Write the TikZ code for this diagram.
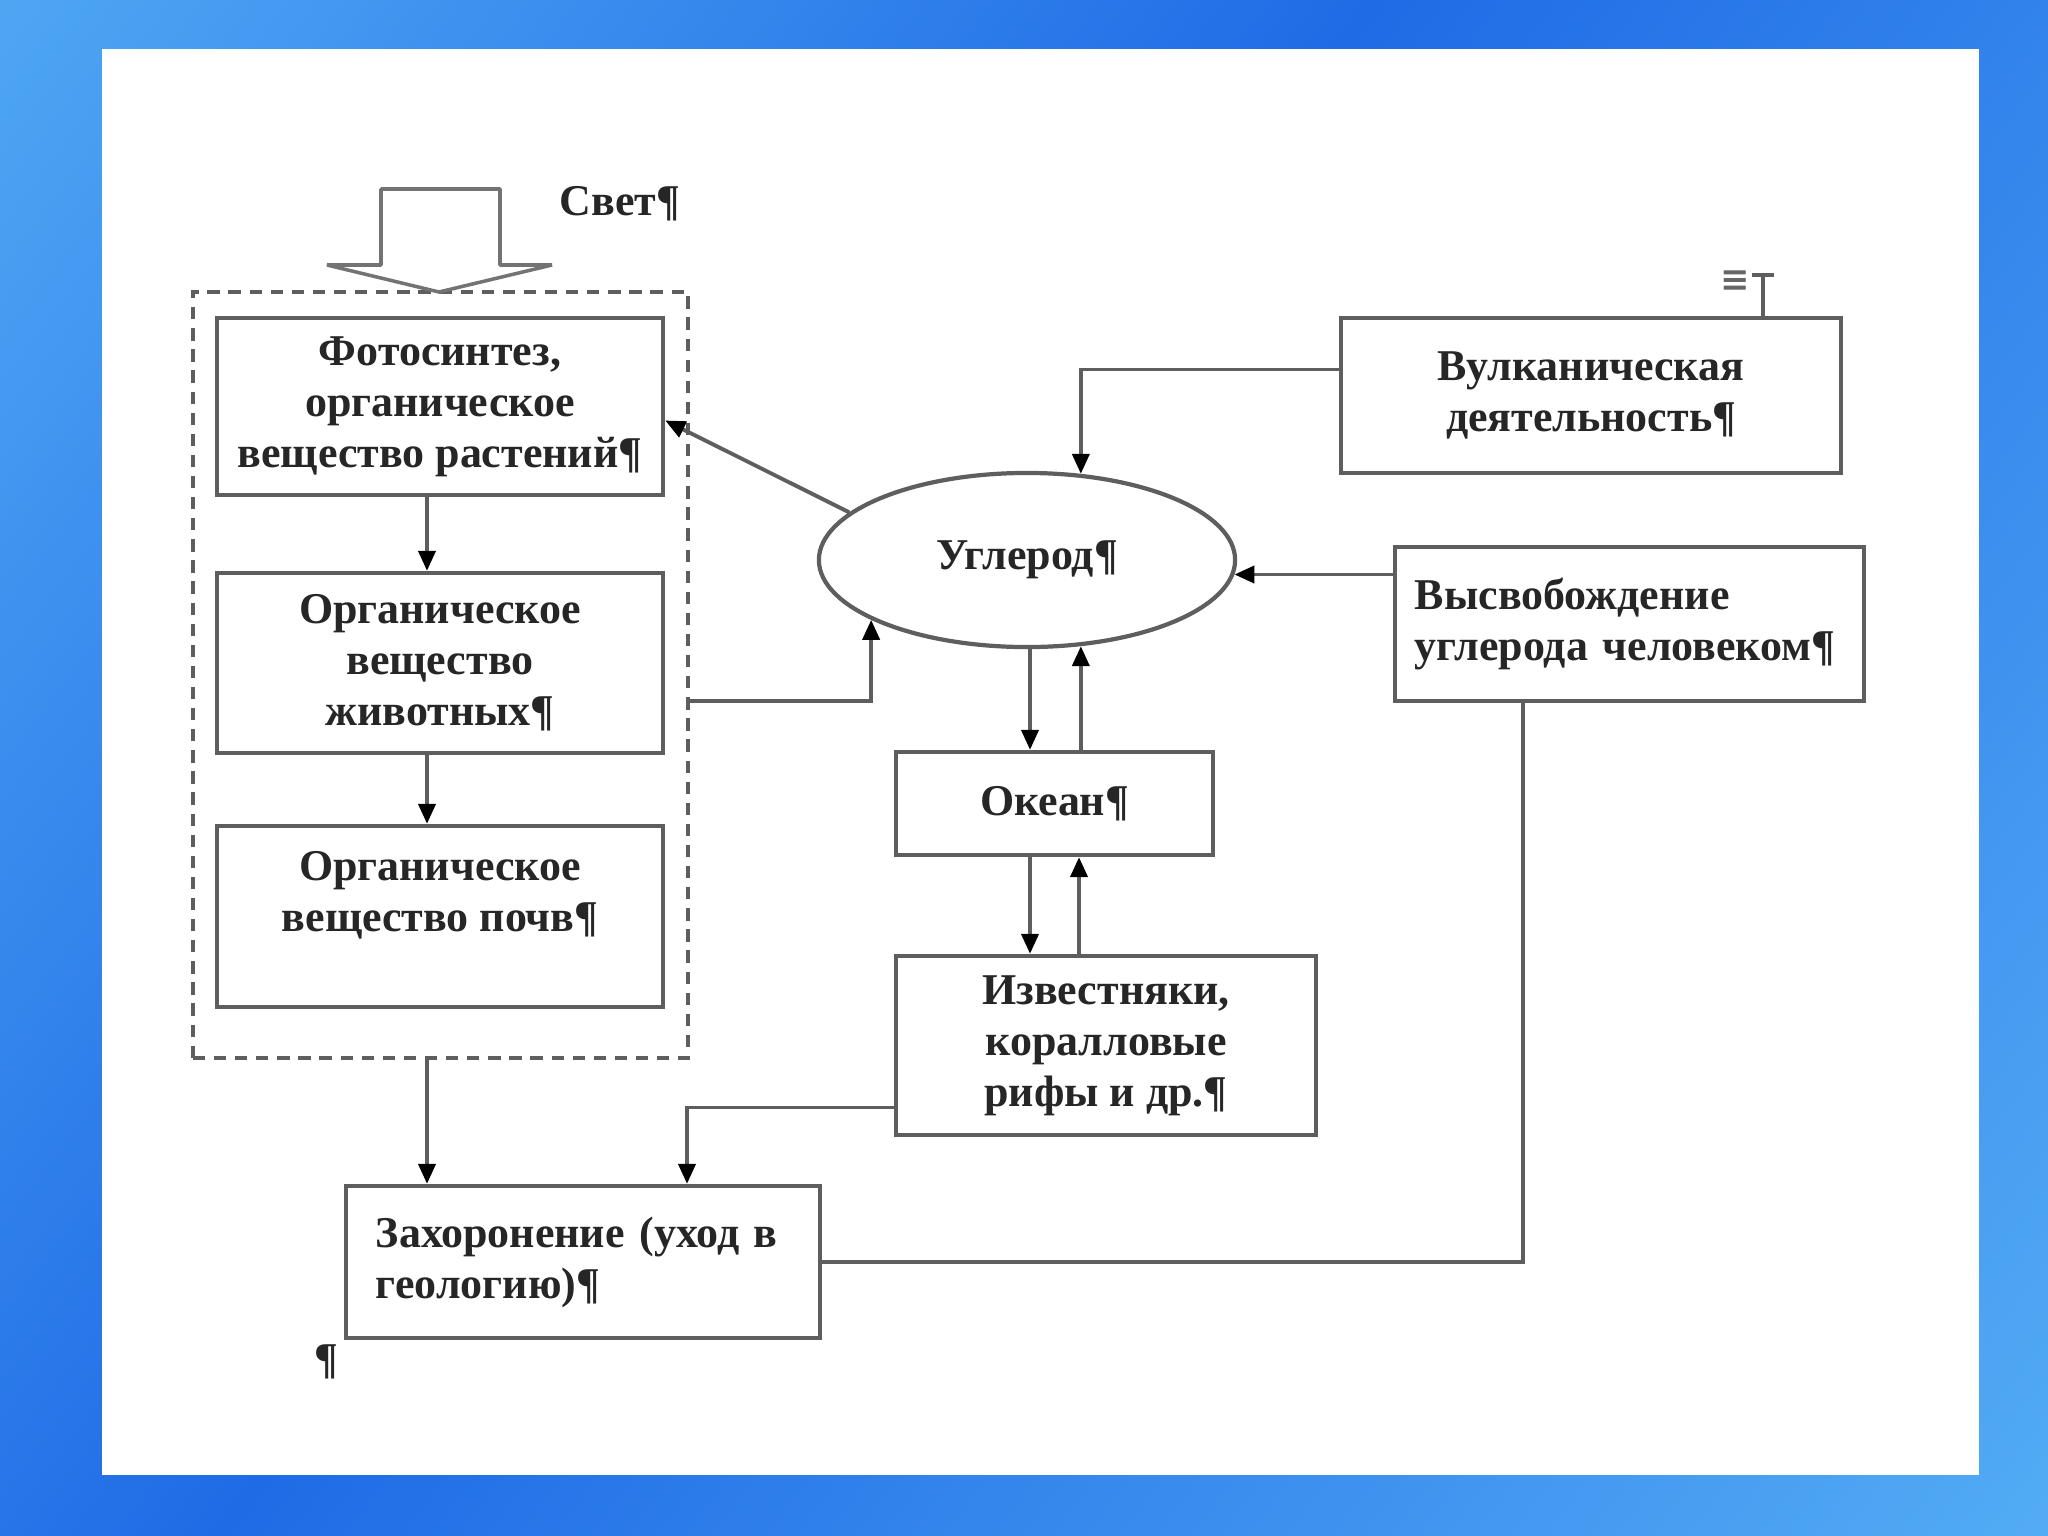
\documentclass[tikz,border=0pt]{standalone}
\usepackage{fontspec}
\setmainfont{Liberation Serif}
\newfontfamily\symfont{DejaVu Sans}
\usepackage{xcolor}
\usetikzlibrary{arrows.meta, positioning, calc, shapes.geometric}
\definecolor{edge}{HTML}{5E5E5E}
\definecolor{frameLt}{HTML}{66C4FA}
\definecolor{frameDk}{HTML}{1F6BE6}
\pgfdeclarehorizontalshading{frameshade}{100bp}{color(0bp)=(frameLt); color(45bp)=(frameDk); color(100bp)=(frameLt)}
\tikzset{
    box/.style={draw=edge, line width=1.2pt, fill=white, align=center, text=black!85,
                font=\fontsize{12.5}{14.5}\selectfont\bfseries, inner sep=0pt},
    lbox/.style={box, align=left, inner xsep=0.3cm},
    grp/.style={draw=edge, line width=1.1pt, dash pattern=on 3.5pt off 2.5pt, inner sep=0pt},
    oval/.style={ellipse, draw=edge, line width=1.2pt, fill=white, inner sep=0pt,
                 font=\fontsize{12.5}{14.5}\selectfont\bfseries, text=black!85},
    arr/.style={-{Triangle[length=2mm, width=1.7mm, black]}, draw=edge, line width=1.1pt},
    lnk/.style={draw=edge, line width=1.1pt},
    light/.style={draw=black!55, line width=1pt, fill=white, line join=bevel},
    lab/.style={font=\fontsize{12.5}{14.5}\selectfont\bfseries, text=black!85},
}

\begin{document}
\begin{tikzpicture}[x=0.01cm, y=-0.01cm]
    % frame
    \shade[shading=frameshade, shading angle=-37] (0,0) rectangle (2048,1536);
    \fill[white] (102,49) rectangle (1979,1475);
    \useasboundingbox (0,0) rectangle (2048,1536);

    % left column
    \node[grp, minimum width=4.95cm, minimum height=7.66cm] (plants) at (440.5,675) {};
    \node[box, minimum width=4.46cm, minimum height=1.77cm] (photo) at (440,406.5) {Фотосинтез,\\органическое\\вещество растений¶};
    \node[box, minimum width=4.46cm, minimum height=1.80cm] (animals) at (440,663) {Органическое\\вещество\\животных¶};
    \node[box, minimum width=4.46cm, minimum height=1.81cm] (soil) at (440,916.5) {Органическое\\вещество почв¶\\ ~};
    \draw[light] (381,189) -- (500,189) -- (500,265) -- (552,265) -- (439,292) -- (327,265) -- (381,265) -- cycle;
    \node[lab] (light) at (620,204) {Свет¶};

    % centre and right
    \node[oval, minimum width=4.16cm, minimum height=1.74cm] (carbon) at (1027,560) {Углерод¶};
    \node[box, minimum width=5.00cm, minimum height=1.55cm] (volcano) at (1591,395.5) {Вулканическая\\деятельность¶};
    \node[lbox, inner xsep=0.2cm, text width=4.29cm, minimum height=1.54cm] (human) at (1629.5,624) {Высвобождение\\углерода человеком¶};
    \node[box, minimum width=3.17cm, minimum height=1.03cm] (ocean) at (1054.5,803.5) {Океан¶};
    \node[box, minimum width=4.20cm, minimum height=1.79cm] (lime) at (1106,1045.5) {Известняки,\\коралловые\\рифы и др.¶};
    \node[lbox, text width=4.14cm, minimum height=1.52cm] (burial) at (583,1262) {Захоронение (уход в\\геологию)¶};
    \node[lab] (mark) at (326,1362) {¶};

    % anchor mark
    \node[font=\symfont\fontsize{10}{10}\selectfont\bfseries, text=black!60] (anchor) at (1735,281) {≡};
    \coordinate (ancT) at (1763,275);
    \draw[lnk, line width=0.9pt] (1752,275) -- (1774,275);
    \draw[lnk, line width=0.9pt] (ancT) -- (ancT |- volcano.north);

    % helper columns
    \coordinate (colx) at (427,0);
    \coordinate (dn) at (1030,0);
    \coordinate (up) at (1079,0);
    \coordinate (bx) at (687,0);
    \coordinate (hx) at (1523,0);

    \draw[arr] (photo.south -| colx) -- (animals.north -| colx);
    \draw[arr] (animals.south -| colx) -- (soil.north -| colx);
    \draw[arr] (plants.south -| colx) -- (burial.north -| colx);
    \draw[arr] (carbon.165) -- ($(photo.east)+(0,14)$);
    \draw[arr] ($(plants.east)+(0,26)$) -| (carbon.201);
    \draw[arr] ($(volcano.west)+(0,-26)$) -| (carbon.58);
    \draw[arr] (human.west |- carbon.356) -- (carbon.356);
    \draw[arr] (carbon.south -| dn) -- (ocean.north -| dn);
    \draw[arr] (ocean.north -| carbon.302) -- (carbon.302);
    \draw[arr] (ocean.south -| dn) -- (lime.north -| dn);
    \draw[arr] (lime.north -| up) -- (ocean.south -| up);
    \draw[arr] ($(lime.west)+(0,62)$) -| (burial.north -| bx);
    \draw[lnk] (burial.east) -| (human.south -| hx);
\end{tikzpicture}
\end{document}
